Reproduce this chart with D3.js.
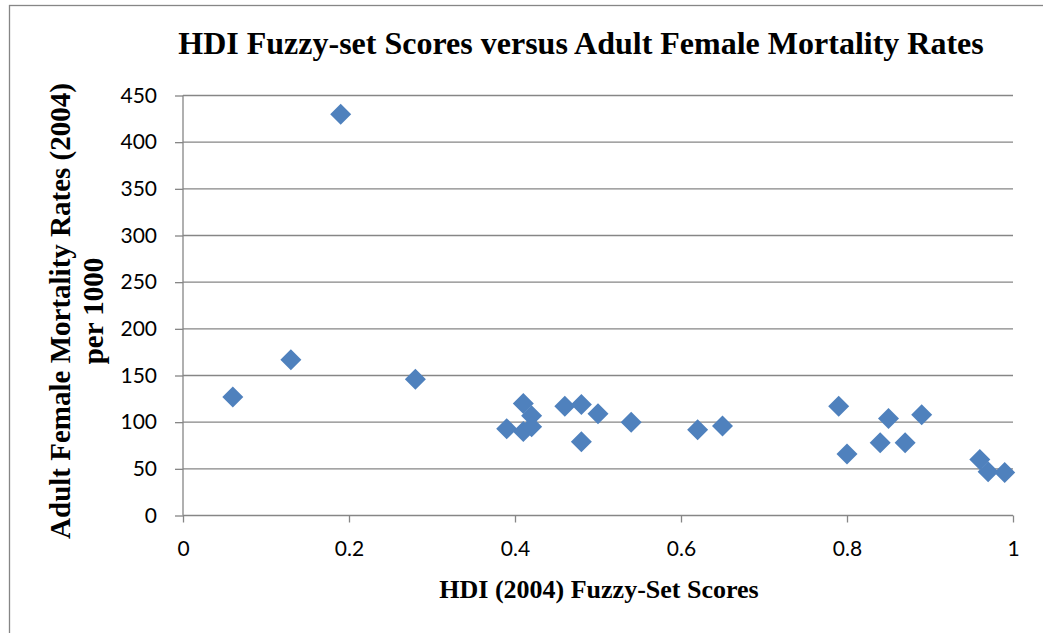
<!DOCTYPE html>
<html>
<head>
<meta charset="utf-8">
<script src="https://cdn.jsdelivr.net/npm/d3@7"></script>
<style>
  html, body { margin: 0; padding: 0; background: #fff; }
  svg { display: block; }
</style>
</head>
<body>
<svg id="chart" width="1043" height="633"></svg>
<script>
// ---- Data ----
const hdiScores = [0.06, 0.13, 0.19, 0.28, 0.39, 0.41, 0.41, 0.42, 0.42, 0.46, 0.48, 0.48, 0.50, 0.54, 0.62, 0.65, 0.79, 0.80, 0.84, 0.85, 0.87, 0.89, 0.96, 0.97, 0.99];
const mortality = [127, 167, 430, 146, 93, 120, 90, 107, 95, 117, 119, 79, 109, 100, 92, 96, 117, 66, 78, 104, 78, 108, 60, 47, 46];
const xTicks = [0, 0.2, 0.4, 0.6, 0.8, 1];
const yTicks = [0, 50, 100, 150, 200, 250, 300, 350, 400, 450];
const chartTitle = "HDI Fuzzy-set Scores versus Adult Female Mortality Rates";
const xTitle = "HDI (2004) Fuzzy-Set Scores";
const yTitleLines = ["Adult Female Mortality Rates (2004)", "per 1000"];

// ---- Layout ----
const plot = { left: 183, right: 1013, top: 95.5, bottom: 515.5 };
const gridColor = "#868686";
const markerColor = "#4F81BD";
const serif = "'Liberation Serif', 'Times New Roman', serif";
const sans = "Lato, 'Open Sans', sans-serif";

const svg = d3.select("#chart");

// outer chart border (only top and left visible in the frame)
svg.append("rect")
  .attr("x", 9.5).attr("y", 5.5)
  .attr("width", 1200).attr("height", 800)
  .attr("fill", "none").attr("stroke", gridColor).attr("stroke-width", 1.3);

const x = d3.scaleLinear().domain([0, 1]).range([plot.left, plot.right]);
const y = d3.scaleLinear().domain([0, 450]).range([plot.bottom, plot.top]);

// gridlines
svg.append("g")
  .selectAll("line")
  .data(yTicks.filter(d => d > 0))
  .join("line")
  .attr("x1", plot.left).attr("x2", plot.right)
  .attr("y1", d => y(d)).attr("y2", d => y(d))
  .attr("stroke", gridColor).attr("stroke-width", 1.3);

// y axis
const yAxis = svg.append("g")
  .attr("transform", `translate(${plot.left},0)`)
  .call(d3.axisLeft(y).tickValues(yTicks).tickSize(8).tickPadding(18).tickFormat(d3.format("d")));
yAxis.select(".domain").attr("stroke", gridColor).attr("stroke-width", 1.3)
  .attr("d", `M0,${plot.top}V${plot.bottom}`);
yAxis.selectAll(".tick line").attr("stroke", gridColor).attr("stroke-width", 1.3);
yAxis.selectAll(".tick text").attr("font-family", sans).attr("font-size", 21).attr("fill", "#000");

// x axis
const xAxis = svg.append("g")
  .attr("transform", `translate(0,${plot.bottom})`)
  .call(d3.axisBottom(x).tickValues(xTicks).tickSize(7).tickPadding(19).tickFormat(d => d3.format("")(d)));
xAxis.select(".domain").attr("stroke", gridColor).attr("stroke-width", 1.3)
  .attr("d", `M${plot.left},0H${plot.right}`);
xAxis.selectAll(".tick line").attr("stroke", gridColor).attr("stroke-width", 1.3);
xAxis.selectAll(".tick text").attr("font-family", sans).attr("font-size", 21).attr("fill", "#000");

// markers (diamonds)
const half = 10.5;
const diamond = `M0,${-half}L${half},0L0,${half}L${-half},0Z`;
svg.append("g")
  .selectAll("path")
  .data(hdiScores.map((v, i) => ({ x: v, y: mortality[i] })))
  .join("path")
  .attr("d", diamond)
  .attr("transform", d => `translate(${x(d.x)},${y(d.y)})`)
  .attr("fill", markerColor);

// titles
svg.append("text")
  .attr("x", 581).attr("y", 54)
  .attr("text-anchor", "middle")
  .attr("font-family", serif).attr("font-weight", "bold").attr("font-size", 32)
  .text(chartTitle);

svg.append("text")
  .attr("x", 599).attr("y", 598)
  .attr("text-anchor", "middle")
  .attr("font-family", serif).attr("font-weight", "bold").attr("font-size", 26)
  .text(xTitle);

const yt = svg.append("text")
  .attr("transform", "translate(0,311) rotate(-90)")
  .attr("text-anchor", "middle")
  .attr("font-family", serif).attr("font-weight", "bold").attr("font-size", 29);
yTitleLines.forEach((t, i) => {
  yt.append("tspan").attr("x", 0).attr("y", 70 + i * 33).text(t);
});
</script>
</body>
</html>
